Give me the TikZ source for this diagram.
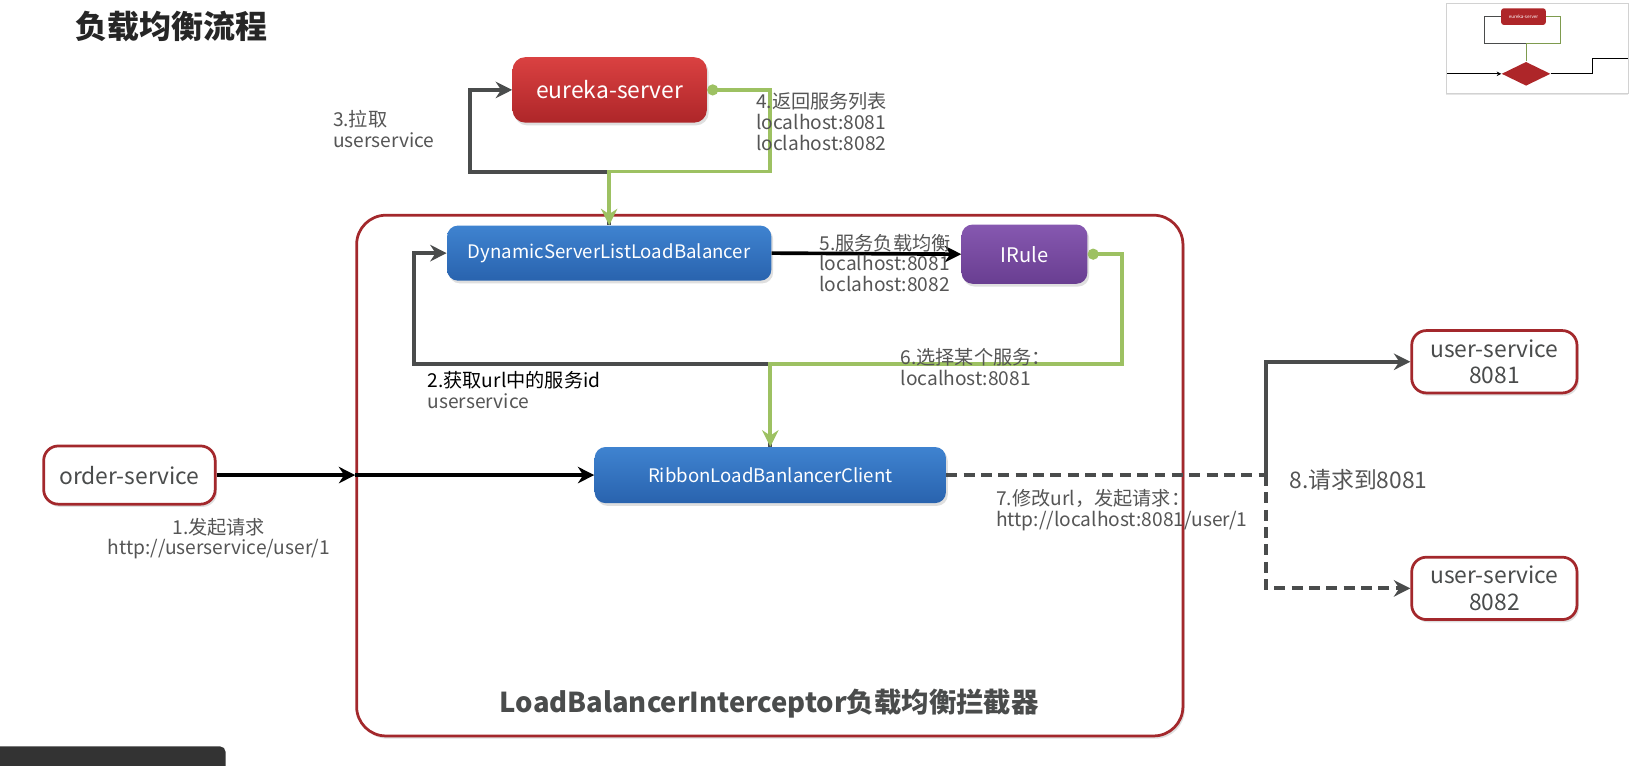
\documentclass[tikz,border=0pt]{standalone}
\usepackage{fontspec}
\setmainfont{Noto Sans CJK SC}
\usetikzlibrary{positioning,arrows.meta,shadows,shapes.geometric}

\definecolor{eurekatop}{HTML}{DA4141}
\definecolor{eurekabot}{HTML}{AE2629}
\definecolor{bluetop}{HTML}{3F83D0}
\definecolor{bluebot}{HTML}{2963AE}
\definecolor{purpletop}{HTML}{8658B0}
\definecolor{purplebot}{HTML}{693E91}
\definecolor{frame}{HTML}{A3282C}
\definecolor{pathgray}{HTML}{4A4C4C}
\definecolor{pathgreen}{HTML}{9DC162}
\definecolor{labelgray}{HTML}{555555}

\tikzset{
  boxshadow/.style={drop shadow={shadow xshift=1pt,shadow yshift=-1.5pt,opacity=0.25}},
  redbox/.style={rounded corners=7pt,top color=eurekatop,bottom color=eurekabot,
    text=white,font=\fontsize{12.5}{12.5}\selectfont,boxshadow},
  bluebox/.style={rounded corners=6pt,top color=bluetop,bottom color=bluebot,
    text=white,font=\fontsize{10.2}{10.2}\selectfont,boxshadow},
  purplebox/.style={rounded corners=6pt,top color=purpletop,bottom color=purplebot,
    text=white,font=\fontsize{11}{11}\selectfont,boxshadow},
  svcbox/.style={rounded corners=8pt,draw=frame,line width=1.5pt,fill=white,
    text=pathgray,font=\fontsize{12.5}{14.5}\selectfont,align=center,boxshadow},
  darkpath/.style={draw=pathgray,line width=2.2pt,-{Stealth[length=9pt,width=9pt]}},
  greenpath/.style={draw=pathgreen,line width=2pt,
    {Circle[length=6pt]}-{Stealth[length=9pt,width=9pt]}},
  blackpath/.style={draw=black,line width=2pt,-{Stealth[length=9pt,width=9pt]}},
  lbl/.style={anchor=west,align=left,text=labelgray,font=\fontsize{10.5}{11.3}\selectfont},
}

\begin{document}
\begin{tikzpicture}[x=0.02cm,y=-0.02cm,every node/.style={inner sep=0pt}]
\useasboundingbox[fill=white] (0,0) rectangle (1568,736);

% title
\node[anchor=west,text=black!85,font=\bfseries\fontsize{17.5}{17.5}\selectfont] (title) at (72,25) {负载均衡流程};

% interceptor frame
\node[draw=frame,line width=1.5pt,rounded corners=16pt,fill=white,boxshadow,
  minimum width=15.9cm,minimum height=10.02cm] (lb) at (740.5,457.5) {};
\node[text=pathgray,font=\bfseries\fontsize{15}{15}\selectfont] (lbtitle) at (740,677) {LoadBalancerInterceptor负载均衡拦截器};

% boxes
\node[redbox,minimum width=3.74cm,minimum height=1.26cm] (eureka) at (586.5,86.5) {eureka-server};
\node[bluebox,minimum width=6.24cm,minimum height=1.06cm] (dyn) at (586,243.5) {DynamicServerListLoadBalancer};
\node[purplebox,minimum width=2.42cm,minimum height=1.14cm] (irule) at (985.5,244.5) {IRule};
\node[bluebox,minimum width=6.76cm,minimum height=1.08cm] (ribbon) at (741,457) {RibbonLoadBanlancerClient};
\node[svcbox,minimum width=3.3cm,minimum height=1.12cm] (order) at (124.5,457) {order-service};
\node[svcbox,minimum width=3.18cm,minimum height=1.2cm] (us1) at (1437.5,348) {user-service\\8081};
\node[svcbox,minimum width=3.18cm,minimum height=1.2cm] (us2) at (1437.5,566) {user-service\\8082};

% corners
\coordinate (pullcorner) at (452,165);
\coordinate (backcorner) at (741,165);
\coordinate (idcorner) at (398,350);
\coordinate (pickcorner) at (1079,350);
\coordinate (entry) at (order.east -| lb.west);
\coordinate (fork) at (1218,457);

% connectors
\draw[darkpath] (dyn.north) |- (pullcorner) |- (eureka.west);
\draw[greenpath] (eureka.east) -| (backcorner) -| (dyn.north);
\draw[blackpath] (dyn.east) -- (irule.west);
\draw[darkpath] (ribbon.north) |- (idcorner) |- (dyn.west);
\draw[greenpath] (irule.east) -| (pickcorner) -| (ribbon.north);
\draw[blackpath] (order.east) -- (entry);
\draw[blackpath] (entry) -- (ribbon.west);
\draw[darkpath,-,dash pattern=on 6pt off 3.5pt] (ribbon.east) -- (fork);
\draw[darkpath] (fork) |- (us1.west);
\draw[darkpath,dash pattern=on 6pt off 3.5pt] (fork) |- (us2.west);

% labels
\node[lbl] (pulllbl) at (320,124) {3.拉取\\userservice};
\node[lbl] (listlbl) at (727,117) {4.返回服务列表\\localhost:8081\\loclahost:8082};
\node[lbl] (balancelbl) at (788,253) {5.服务负载均衡\\localhost:8081\\loclahost:8082};
\node[lbl] (idlbl) at (411,375) {\textcolor{black}{2.获取url中的服务id}\\userservice};
\node[lbl] (picklbl) at (866,353) {6.选择某个服务：\\localhost:8081};
\node[lbl,anchor=center,align=center] (reqlbl) at (210.5,518) {1.发起请求\\http://userservice/user/1};
\node[lbl] (rewritelbl) at (958,491) {7.修改url，发起请求：\\http://localhost:8081/user/1};
\node[lbl,font=\fontsize{12.5}{12.5}\selectfont] (hitlbl) at (1240,462) {8.请求到8081};

% preview thumbnail
\draw[gray!35,fill=white,drop shadow={shadow xshift=0pt,shadow yshift=-1pt,opacity=0.2}] (1391,3) rectangle (1566,90);
\node[fill=eurekabot,rounded corners=1.5pt,minimum width=0.86cm,minimum height=0.32cm,
  text=white,font=\fontsize{2.5}{2.5}\selectfont] (minieureka) at (1465.5,16) {eureka-server};
\node[diamond,fill=eurekabot,minimum width=0.94cm,minimum height=0.46cm] (minidiamond) at (1468,71) {};
\coordinate (miniloopl) at (1428,42);
\coordinate (miniloopr) at (1501,42);
\coordinate (minileft) at (1392,71);
\coordinate (ministep) at (1532,56);
\coordinate (miniend) at (1566,56);
\draw[pathgray,line width=0.5pt] (minidiamond.north) |- (miniloopl) |- (minieureka.west);
\draw[pathgreen!80!black,line width=0.4pt] (minieureka.east) -| (miniloopr) -| (minidiamond.north);
\draw[black,line width=0.6pt,-{Stealth[length=2.5pt,width=2.5pt]}] (minileft) -- (minidiamond.west);
\draw[black,line width=0.4pt] (minidiamond.east) -| (ministep) -- (miniend);

% player bar
\fill[black!80] (0,718) [rounded corners=3pt] -- (217,718) [sharp corners] -- (217,740) -- (0,740) -- cycle;
\end{tikzpicture}
\end{document}
